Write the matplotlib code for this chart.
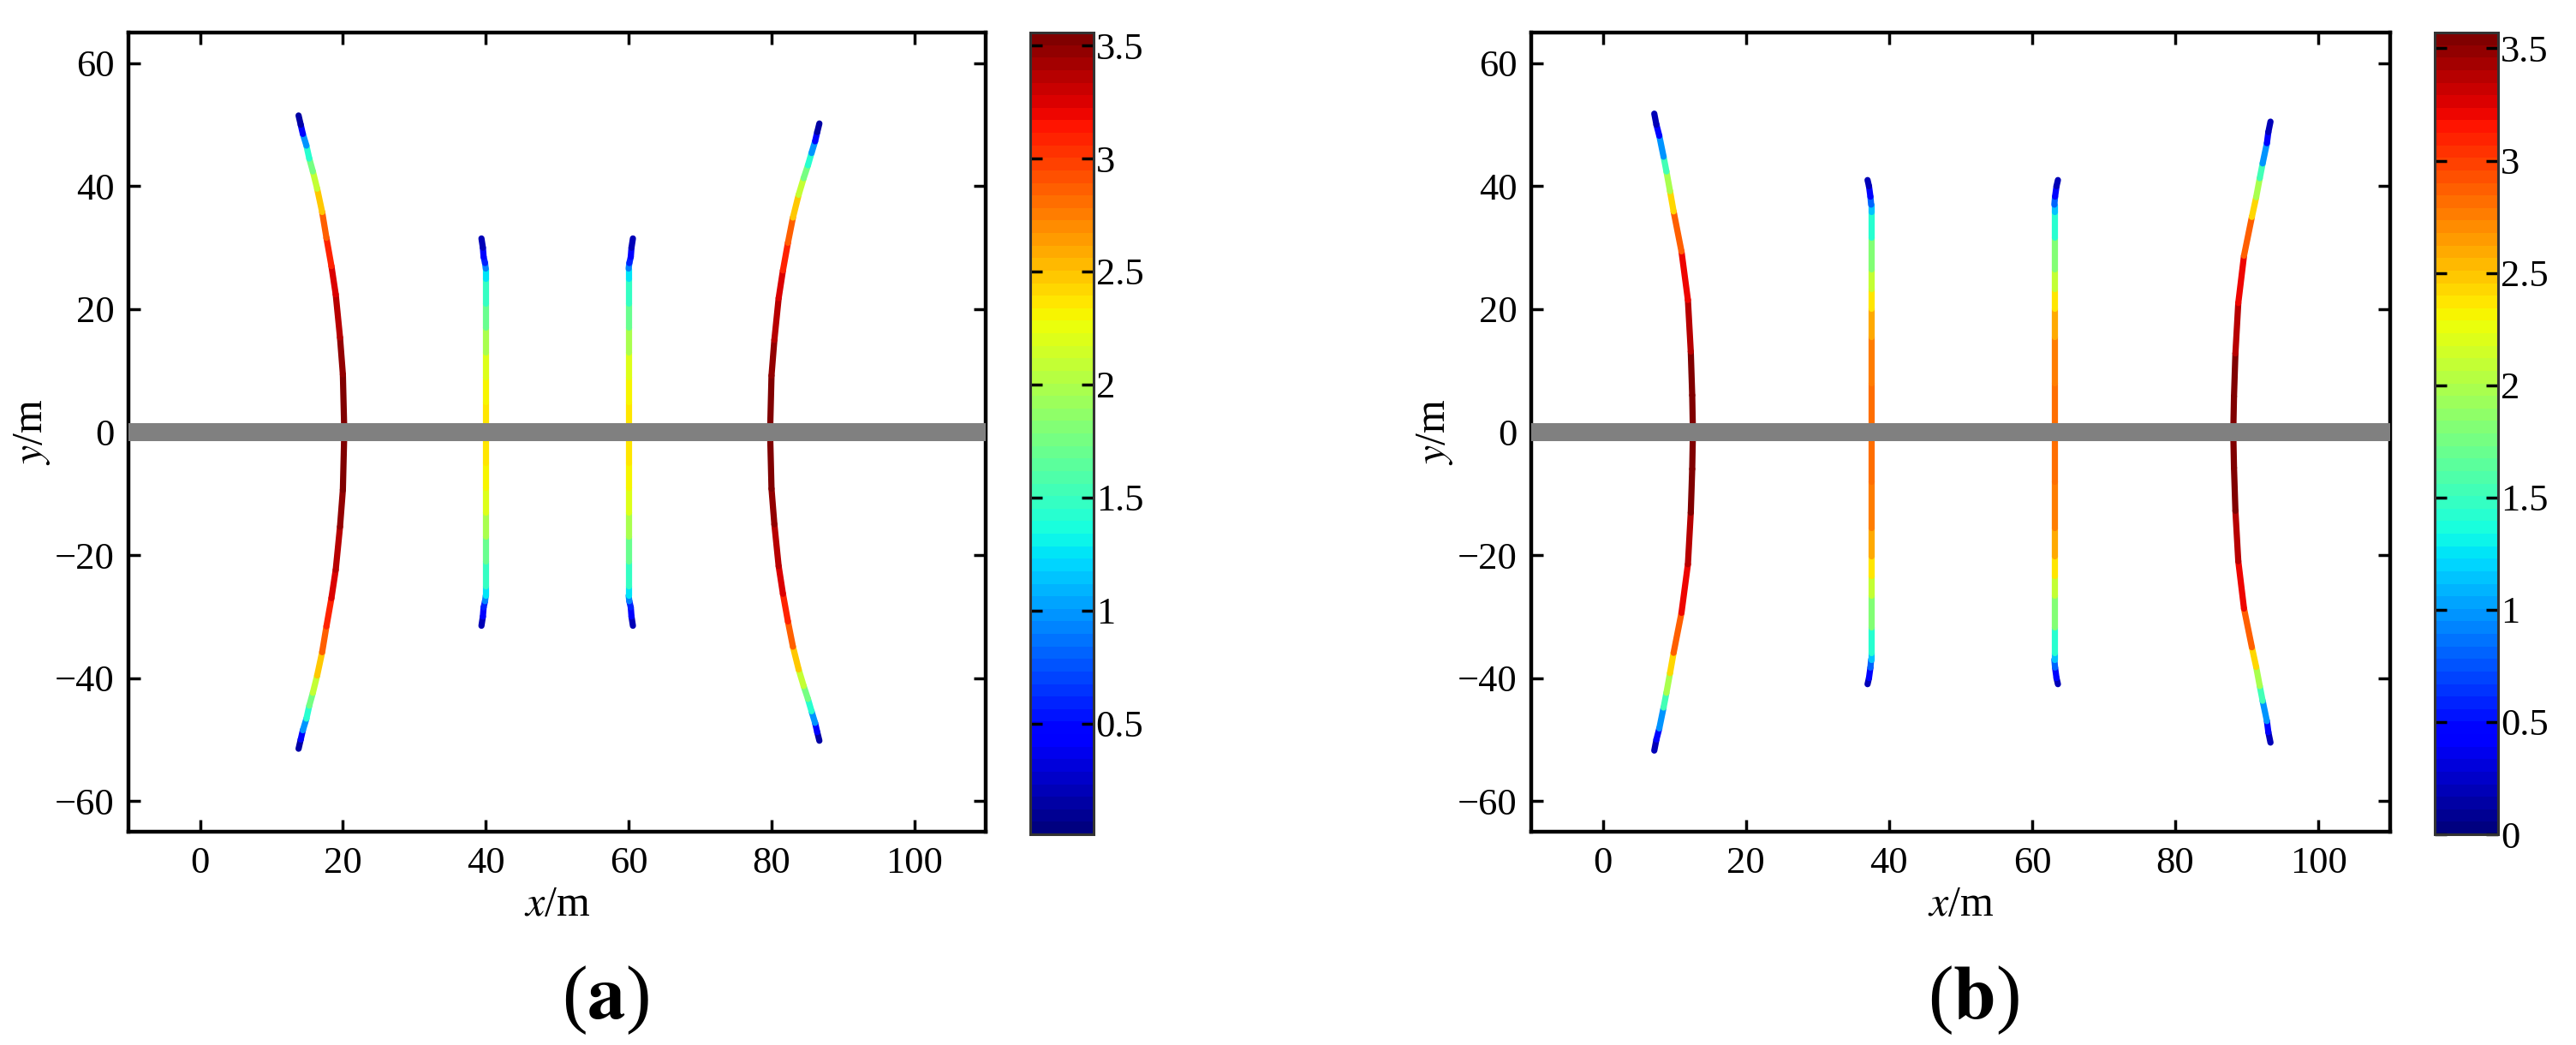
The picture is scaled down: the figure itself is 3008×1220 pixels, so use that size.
import numpy as np
import matplotlib
matplotlib.use("Agg")
import matplotlib.pyplot as plt
from matplotlib.collections import LineCollection
from matplotlib.colors import Normalize
from matplotlib.cm import ScalarMappable

plt.rcParams['font.family'] = ['Liberation Serif', 'DejaVu Serif']
plt.rcParams['mathtext.fontset'] = 'stix'

# -----------------------------
# DATA (half profiles, road y=0 -> tip)
# -----------------------------

# panel (a)
a_left_outer_y = [0, 9.4, 15.4, 22.4, 27.0, 31.6, 35.8, 39.6, 42.4, 44.5, 46.6, 48.5, 50.0, 51.5]
a_left_outer_x = [20.2, 20.0, 19.6, 19.0, 18.4, 17.7, 17.1, 16.4, 15.8, 15.3, 14.9, 14.4, 14.1, 13.8]
a_right_outer_y = [0, 9.2, 15.0, 21.8, 26.3, 30.8, 34.9, 38.6, 41.3, 43.4, 45.4, 47.3, 48.8, 50.2]
a_right_outer_x = [79.8, 80.0, 80.4, 81.0, 81.6, 82.3, 83.0, 83.8, 84.5, 85.1, 85.6, 86.1, 86.4, 86.7]
a_outer_v = [3.55, 3.52, 3.45, 3.3, 3.15, 3.0, 2.7, 2.3, 1.9, 1.6, 1.3, 0.7, 0.3, 0.05]

a_inner_y = [0, 5, 9, 13, 17, 21, 25, 26.6, 27.5, 28.5, 30.0, 31.5]
a_inner_left_x = [40.0, 40.0, 40.0, 40.0, 40.0, 40.0, 40.0, 40.0, 39.9, 39.7, 39.6, 39.4]
a_inner_right_x = [60.0, 60.0, 60.0, 60.0, 60.0, 60.0, 60.0, 60.0, 60.1, 60.3, 60.4, 60.6]
a_inner_v = [2.4, 2.35, 2.25, 2.1, 1.85, 1.6, 1.35, 1.2, 0.7, 0.5, 0.3, 0.1]

# panel (b)
b_left_outer_y = [0, 6.0, 13.1, 21.5, 29.4, 35.9, 39.2, 42.4, 44.8, 48.2, 50.0, 51.8]
b_left_outer_x = [12.6, 12.5, 12.3, 11.9, 11.0, 9.9, 9.4, 8.9, 8.5, 7.9, 7.5, 7.2]
b_right_outer_y = [0, 5.8, 12.8, 21.0, 28.7, 35.0, 38.2, 41.3, 43.7, 47.0, 48.8, 50.5]
b_right_outer_x = [88.1, 88.2, 88.4, 88.8, 89.6, 90.7, 91.3, 91.8, 92.2, 92.8, 93.0, 93.3]
b_outer_v = [3.57, 3.55, 3.5, 3.3, 3.1, 2.6, 2.2, 1.8, 1.3, 0.7, 0.3, 0.05]

b_inner_y = [0, 8, 15.5, 20.1, 23.3, 26.6, 31.7, 35.9, 37.0, 38.3, 40.0, 41.0]
b_inner_left_x = [37.5, 37.5, 37.5, 37.5, 37.5, 37.5, 37.5, 37.5, 37.5, 37.4, 37.2, 37.0]
b_inner_right_x = [63.1, 63.1, 63.1, 63.1, 63.1, 63.1, 63.1, 63.1, 63.1, 63.2, 63.4, 63.6]
b_inner_v = [2.85, 2.8, 2.7, 2.5, 2.2, 2.0, 1.6, 1.3, 1.0, 0.6, 0.3, 0.05]

a_cticks = [0.5, 1, 1.5, 2, 2.5, 3, 3.5]
b_cticks = [0, 0.5, 1, 1.5, 2, 2.5, 3, 3.5]
xticks = [0, 20, 40, 60, 80, 100]
yticks = [-60, -40, -20, 0, 20, 40, 60]

cmap = plt.get_cmap('jet', 64)


def full_curve(x, y, v):
    # mirror the half profile below the road
    x, y, v = np.asarray(x), np.asarray(y), np.asarray(v)
    xs = np.concatenate([x[::-1], x[1:]])
    ys = np.concatenate([-y[::-1], y[1:]])
    vs = np.concatenate([v[::-1], v[1:]])
    return xs, ys, vs


def draw_panel(ax, cax, curves, vmin, vmax, cticks, label, lab_x):
    norm = Normalize(vmin=vmin, vmax=vmax)
    for x, y, v in curves:
        xs, ys, vs = full_curve(x, y, v)
        pts = np.column_stack([xs, ys])
        segs = np.stack([pts[:-1], pts[1:]], axis=1)
        lc = LineCollection(segs, cmap=cmap, norm=norm, linewidths=5.2,
                            capstyle='round', zorder=2)
        lc.set_array((vs[:-1] + vs[1:]) / 2)
        ax.add_collection(lc)

    # road
    ax.axhspan(-1.5, 1.5, color='#808080', zorder=3, lw=0)

    ax.set_xlim(-10, 110)
    ax.set_ylim(-65, 65)
    ax.set_xticks(xticks)
    ax.set_yticks(yticks)
    ax.tick_params(direction='in', top=True, right=True, length=10, width=2.5,
                   labelsize=32, pad=12)
    for s in ax.spines.values():
        s.set_linewidth(3.2)
    ax.set_xlabel(r'$x$/m', fontsize=36, labelpad=4)
    ax.set_ylabel(r'$y$/m', fontsize=36, labelpad=2)

    cb = plt.colorbar(ScalarMappable(norm=norm, cmap=cmap), cax=cax)
    cb.set_ticks(cticks)
    cb.set_ticklabels([f"{t:g}" for t in cticks])
    cax.tick_params(direction='in', left=True, right=True, length=10, width=2.5,
                    labelsize=32, pad=2)
    cb.outline.set_linewidth(2.2)
    cb.outline.set_edgecolor('#333333')

    fig.text(lab_x, 0.043, label, fontsize=64, ha='center', va='center')


fig = plt.figure(figsize=(30.08, 12.2), dpi=100)

ax1 = fig.add_axes([0.0499, 0.2041, 0.3328, 0.7648])
cax1 = fig.add_axes([0.3999, 0.2016, 0.0246, 0.7672])
ax2 = fig.add_axes([0.5944, 0.2041, 0.3334, 0.7648])
cax2 = fig.add_axes([0.9452, 0.2016, 0.0246, 0.7672])

curves_a = [
    (a_left_outer_x, a_left_outer_y, a_outer_v),
    (a_right_outer_x, a_right_outer_y, a_outer_v),
    (a_inner_left_x, a_inner_y, a_inner_v),
    (a_inner_right_x, a_inner_y, a_inner_v),
]
curves_b = [
    (b_left_outer_x, b_left_outer_y, b_outer_v),
    (b_right_outer_x, b_right_outer_y, b_outer_v),
    (b_inner_left_x, b_inner_y, b_inner_v),
    (b_inner_right_x, b_inner_y, b_inner_v),
]

draw_panel(ax1, cax1, curves_a, 0.01, 3.557, a_cticks, r'($\mathbf{a}$)', 0.2350)
draw_panel(ax2, cax2, curves_b, 0.0, 3.57, b_cticks, r'($\mathbf{b}$)', 0.7660)

fig.savefig('out.png', dpi=100, facecolor='white')
